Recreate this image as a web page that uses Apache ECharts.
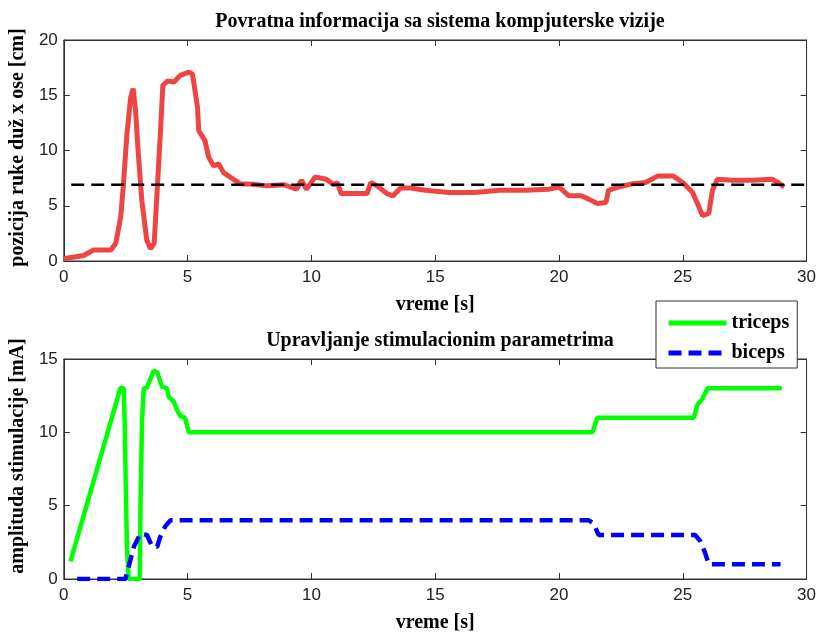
<!DOCTYPE html>
<html>
<head>
    <meta charset="utf-8" />
    <style type="text/css">
        body, html, #chart {width: 100%; height: 100%; overflow: hidden; margin: 0; background: #fff;}
    </style>
    <title>Povratna informacija</title>
</head>
<body>
<div id="chart"></div>
<script src="https://cdn.jsdelivr.net/npm/echarts@6/dist/echarts.min.js"></script>
<script type="text/javascript">
    // top panel: arm position from the vision system
    var posT = [0, 0.8, 1.2, 1.9, 2.1, 2.3, 2.4, 2.55, 2.7, 2.8, 2.9, 3.0, 3.15, 3.35, 3.5, 3.65, 3.75, 3.9, 4.0, 4.2, 4.45, 4.7, 5.05, 5.2, 5.4, 5.45, 5.7, 5.85, 6.05, 6.25, 6.45, 6.85, 7.1, 7.65, 8.2, 8.9, 9.4, 9.6, 9.8, 10.15, 10.6, 10.9, 11.05, 11.2, 11.7, 12.25, 12.4, 12.65, 13.05, 13.3, 13.6, 14.0, 14.6, 15.55, 16.6, 17.6, 18.65, 19.6, 20.0, 20.4, 20.9, 21.2, 21.55, 21.9, 22.0, 22.4, 23.0, 23.5, 24.0, 24.6, 25.0, 25.4, 25.65, 25.8, 26.05, 26.2, 26.4, 27.0, 27.8, 28.6, 28.85, 29.1];
    var posY = [0.2, 0.5, 1.0, 1.0, 1.6, 4.0, 6.7, 11.5, 14.8, 15.6, 13.6, 10.0, 5.5, 1.9, 1.1, 1.6, 5.5, 11.5, 15.9, 16.3, 16.2, 16.8, 17.1, 16.9, 13.9, 11.8, 10.9, 9.4, 8.6, 8.8, 8.0, 7.4, 7.0, 6.95, 6.8, 6.9, 6.5, 7.3, 6.5, 7.6, 7.4, 6.9, 7.1, 6.1, 6.1, 6.1, 7.1, 6.8, 6.1, 5.9, 6.6, 6.6, 6.4, 6.2, 6.2, 6.4, 6.4, 6.5, 6.7, 5.9, 5.9, 5.6, 5.2, 5.3, 6.4, 6.7, 7.0, 7.1, 7.7, 7.7, 7.1, 6.2, 4.9, 4.1, 4.3, 6.4, 7.4, 7.3, 7.3, 7.4, 7.1, 6.7];
    var refT = [0.3, 30];
    var refY = [6.9, 6.9];

    // bottom panel: stimulation amplitudes
    var triT = [0.27, 2.29, 2.42, 2.46, 2.5, 2.55, 2.62, 3.07, 3.1, 3.16, 3.23, 3.36, 3.63, 3.77, 3.97, 4.17, 4.24, 4.44, 4.58, 4.71, 4.89, 5.05, 21.35, 21.55, 25.45, 25.6, 25.8, 26.0, 29.0];
    var triY = [1.2, 13.05, 13.0, 10.7, 6.6, 2.2, 0, 0, 5.4, 10.8, 13.0, 13.05, 14.2, 14.1, 13.1, 13.0, 12.4, 12.1, 11.5, 11.1, 11.0, 10.0, 10.0, 11.0, 11.0, 11.9, 12.3, 13.0, 13.0];
    var bicT = [0.54, 2.49, 2.62, 2.83, 3.1, 3.36, 3.57, 3.77, 3.9, 4.1, 4.3, 21.2, 21.4, 21.6, 25.5, 25.7, 25.9, 26.05, 28.95];
    var bicY = [0, 0, 0.85, 2.2, 3.1, 3.0, 2.2, 2.2, 2.9, 3.6, 4.0, 4.0, 3.8, 3.0, 3.0, 2.6, 1.8, 1.0, 1.0];

    var xTicks = [0, 5, 10, 15, 20, 25, 30];

    function pairs(t, y) {
        return t.map(function (v, i) { return [v, y[i]]; });
    }

    var serif = '"Liberation Serif", "DejaVu Serif", serif';
    var sans = '"Liberation Sans", Arimo, sans-serif';
    var axisCol = '#333';
    var nameFont = {fontFamily: serif, fontWeight: 'bold', fontSize: 20, color: '#000'};

    function xAx(gi, pos, labels) {
        return {
            type: 'value', gridIndex: gi, position: pos,
            min: xTicks[0], max: xTicks[xTicks.length - 1], interval: 5,
            axisLine: {show: true, onZero: false, lineStyle: {color: axisCol, width: 1}},
            axisTick: {show: true, inside: true, length: 6, lineStyle: {color: axisCol}},
            axisLabel: {show: labels, color: '#222', fontFamily: sans, fontSize: 17, margin: 8},
            splitLine: {show: false},
            name: labels ? 'vreme [s]' : '',
            nameLocation: 'middle', nameGap: 34,
            nameTextStyle: nameFont
        };
    }

    function yAx(gi, pos, max, interval, name, shift) {
        return {
            type: 'value', gridIndex: gi, position: pos,
            min: 0, max: max, interval: interval,
            axisLine: {show: true, onZero: false, lineStyle: {color: axisCol, width: 1}},
            axisTick: {show: true, inside: true, length: 6, lineStyle: {color: axisCol}},
            axisLabel: {show: !!name, color: '#222', fontFamily: sans, fontSize: 17, margin: 6},
            splitLine: {show: false},
            name: name || '',
            nameLocation: 'middle', nameGap: 32,
            nameTextStyle: Object.assign({padding: [0, 0, 0, shift || 0]}, nameFont)
        };
    }

    var myChart = echarts.init(document.getElementById('chart'));
    myChart.setOption({
        backgroundColor: '#fff',
        animation: false,
        title: [
            {text: 'Povratna informacija sa sistema kompjuterske vizije', left: 435, top: 7, textAlign: 'center',
                textStyle: nameFont},
            {text: 'Upravljanje stimulacionim parametrima', left: 435, top: 326, textAlign: 'center',
                textStyle: nameFont}
        ],
        legend: {
            data: ['triceps', 'biceps'],
            orient: 'vertical',
            left: 656, top: 301,
            padding: [12, 8, 5, 10],
            itemGap: 10,
            itemWidth: 58, itemHeight: 14,
            backgroundColor: '#fff',
            borderColor: '#333', borderWidth: 1,
            itemStyle: {opacity: 0},
            lineStyle: {width: 5},
            textStyle: nameFont
        },
        grid: [
            {left: 63, right: 11, top: 40, height: 221, show: true, borderColor: axisCol, borderWidth: 1},
            {left: 63, right: 11, top: 359, height: 220, show: true, borderColor: axisCol, borderWidth: 1}
        ],
        xAxis: [xAx(0, 'bottom', true), xAx(0, 'top', false), xAx(1, 'bottom', true), xAx(1, 'top', false)],
        yAxis: [
            yAx(0, 'left', 20, 5, 'pozicija ruke duž x ose [cm]', 6), yAx(0, 'right', 20, 5, ''),
            yAx(1, 'left', 15, 5, 'amplituda stimulacije [mA]', 26), yAx(1, 'right', 15, 5, '')
        ],
        series: [
            {
                name: 'pozicija', type: 'line', xAxisIndex: 0, yAxisIndex: 0,
                data: pairs(posT, posY), symbol: 'none', z: 3,
                lineStyle: {color: '#ef4444', width: 5}
            },
            {
                name: 'referenca', type: 'line', xAxisIndex: 0, yAxisIndex: 0,
                data: pairs(refT, refY), symbol: 'none', z: 4,
                lineStyle: {color: '#000', width: 2.5, type: [13, 7]}
            },
            {
                name: 'triceps', type: 'line', xAxisIndex: 2, yAxisIndex: 2,
                data: pairs(triT, triY), symbol: 'none', z: 3,
                itemStyle: {color: '#00ff00'},
                lineStyle: {color: '#00ff00', width: 4.5}
            },
            {
                name: 'biceps', type: 'line', xAxisIndex: 2, yAxisIndex: 2,
                data: pairs(bicT, bicY), symbol: 'none', z: 4,
                itemStyle: {color: '#0000ff'},
                lineStyle: {color: '#0000ff', width: 4.5, type: [13, 7]}
            }
        ]
    });
</script>
</body>
</html>
